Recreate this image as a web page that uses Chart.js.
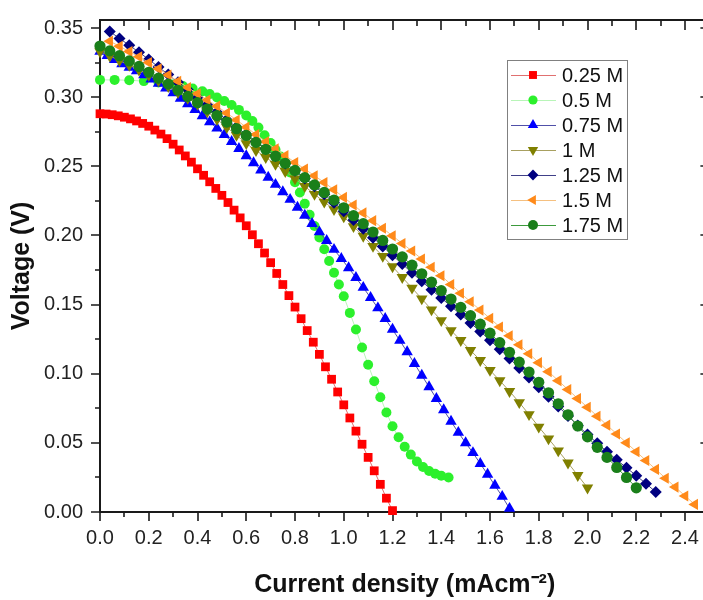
<!DOCTYPE html>
<html><head><meta charset="utf-8">
<script src="https://cdn.jsdelivr.net/npm/chart.js@4/dist/chart.umd.min.js"></script>
<style>html,body{margin:0;padding:0;background:#fff;overflow:hidden}#wrap{width:716px;height:600px}</style>
</head><body><div id="wrap"><canvas id="c" width="716" height="600"></canvas></div>
<script>
const xTickValues = [0, 0.2, 0.4, 0.6, 0.8, 1.0, 1.2, 1.4, 1.6, 1.8, 2.0, 2.2, 2.4];
const yTickValues = [0, 0.05, 0.10, 0.15, 0.20, 0.25, 0.30, 0.35];
const seriesLabels = ['0.25 M', '0.5 M', '0.75 M', '1 M', '1.25 M', '1.5 M', '1.75 M'];

const x025 = [0,0.025,0.05,0.075,0.1,0.125,0.15,0.175,0.2,0.225,0.25,0.275,0.3,0.325,0.35,0.375,0.4,0.425,0.45,0.475,0.5,0.525,0.55,0.575,0.6,0.625,0.65,0.675,0.7,0.725,0.75,0.775,0.8,0.825,0.85,0.875,0.9,0.925,0.95,0.975,1.0,1.025,1.05,1.075,1.1,1.125,1.15,1.175,1.2];
const y025 = [0.288,0.2878,0.2873,0.2865,0.2855,0.2843,0.2828,0.281,0.279,0.2762,0.2733,0.27,0.266,0.2618,0.2575,0.253,0.2482,0.2435,0.2388,0.234,0.229,0.2238,0.2183,0.2127,0.207,0.2005,0.194,0.1873,0.1803,0.1725,0.1645,0.1565,0.1482,0.1398,0.1312,0.1228,0.114,0.105,0.096,0.0868,0.0775,0.068,0.0585,0.049,0.0395,0.0298,0.02,0.01,0.001];

const x05 = [0,0.06,0.12,0.18,0.24,0.30,0.34,0.38,0.42,0.45,0.48,0.51,0.54,0.57,0.60,0.625,0.65,0.675,0.70,0.72,0.74,0.76,0.78,0.80,0.82,0.84,0.86,0.88,0.90,0.92,0.94,0.96,0.98,1.00,1.025,1.05,1.075,1.10,1.125,1.15,1.175,1.20,1.225,1.25,1.275,1.30,1.325,1.35,1.375,1.40,1.43];
const y05 = [0.3125,0.3125,0.3122,0.3116,0.3106,0.3092,0.3080,0.3063,0.3042,0.3022,0.2998,0.2972,0.2943,0.2908,0.2868,0.2828,0.2780,0.2725,0.2668,0.2620,0.2570,0.2515,0.2455,0.2385,0.2310,0.2230,0.2150,0.2068,0.1985,0.1900,0.1815,0.1730,0.1645,0.1560,0.1440,0.1320,0.1190,0.1065,0.0945,0.0830,0.0720,0.0620,0.0540,0.0472,0.0415,0.0365,0.0325,0.0297,0.0277,0.0262,0.0250];

const x075 = [0,0.03,0.06,0.09,0.12,0.15,0.18,0.21,0.24,0.27,0.30,0.33,0.36,0.39,0.42,0.45,0.48,0.51,0.54,0.57,0.60,0.63,0.66,0.69,0.72,0.75,0.78,0.81,0.84,0.87,0.90,0.93,0.96,0.99,1.02,1.05,1.08,1.11,1.14,1.17,1.20,1.23,1.26,1.29,1.32,1.35,1.38,1.41,1.44,1.47,1.50,1.53,1.56,1.59,1.62,1.65,1.68];
const y075 = [0.3330,0.3300,0.3270,0.3240,0.3215,0.3190,0.3160,0.3130,0.3100,0.3065,0.3030,0.2990,0.2950,0.2910,0.2865,0.2820,0.2775,0.2728,0.2678,0.2628,0.2575,0.2525,0.2472,0.2420,0.2368,0.2315,0.2260,0.2203,0.2145,0.2085,0.2025,0.1962,0.1898,0.1832,0.1765,0.1695,0.1623,0.1550,0.1475,0.1398,0.1320,0.1240,0.1158,0.1073,0.0988,0.0905,0.0820,0.0738,0.0655,0.0575,0.0500,0.0428,0.0350,0.0272,0.0192,0.0112,0.0025];

const x1 = [0,0.04,0.08,0.12,0.16,0.20,0.24,0.28,0.32,0.36,0.40,0.44,0.48,0.52,0.56,0.60,0.64,0.68,0.72,0.76,0.80,0.84,0.88,0.92,0.96,1.00,1.04,1.08,1.12,1.16,1.20,1.24,1.28,1.32,1.36,1.40,1.44,1.48,1.52,1.56,1.60,1.64,1.68,1.72,1.76,1.80,1.84,1.88,1.92,1.96,2.00];
const y1 = [0.3330,0.3298,0.3265,0.3232,0.3198,0.3160,0.3120,0.3078,0.3035,0.2992,0.2950,0.2895,0.2840,0.2782,0.2725,0.2665,0.2615,0.2565,0.2515,0.2463,0.2410,0.2355,0.2298,0.2242,0.2188,0.2135,0.2065,0.1995,0.1922,0.1850,0.1775,0.1697,0.1620,0.1542,0.1463,0.1385,0.1313,0.1241,0.1169,0.1097,0.1025,0.0950,0.0873,0.0792,0.0705,0.0615,0.0530,0.0443,0.0355,0.0265,0.0175];

const x125 = [0.04,0.08,0.12,0.16,0.20,0.24,0.28,0.32,0.36,0.40,0.44,0.48,0.52,0.56,0.60,0.64,0.68,0.72,0.76,0.80,0.84,0.88,0.92,0.96,1.00,1.04,1.08,1.12,1.16,1.20,1.24,1.28,1.32,1.36,1.40,1.44,1.48,1.52,1.56,1.60,1.64,1.68,1.72,1.76,1.80,1.84,1.88,1.92,1.96,2.00,2.04,2.08,2.12,2.16,2.20,2.24,2.28];
const y125 = [0.3475,0.3425,0.3375,0.3325,0.3273,0.3218,0.3163,0.3108,0.3053,0.2998,0.2944,0.2890,0.2837,0.2784,0.2731,0.2679,0.2627,0.2574,0.2521,0.2467,0.2412,0.2355,0.2297,0.2237,0.2175,0.2112,0.2048,0.1984,0.1920,0.1856,0.1793,0.1730,0.1668,0.1607,0.1547,0.1488,0.1428,0.1367,0.1305,0.1242,0.1177,0.1110,0.1042,0.0973,0.0903,0.0833,0.0763,0.0694,0.0626,0.0560,0.0497,0.0436,0.0377,0.0320,0.0263,0.0205,0.0145];

const x15 = [0.04,0.08,0.12,0.16,0.20,0.24,0.28,0.32,0.36,0.40,0.44,0.48,0.52,0.56,0.60,0.64,0.68,0.72,0.76,0.80,0.84,0.88,0.92,0.96,1.00,1.04,1.08,1.12,1.16,1.20,1.24,1.28,1.32,1.36,1.40,1.44,1.48,1.52,1.56,1.60,1.64,1.68,1.72,1.76,1.80,1.84,1.88,1.92,1.96,2.00,2.04,2.08,2.12,2.16,2.20,2.24,2.28,2.32,2.36,2.40,2.44];
const y15 = [0.3405,0.3368,0.3330,0.3292,0.3250,0.3205,0.3160,0.3115,0.3070,0.3025,0.2980,0.2935,0.2885,0.2835,0.2783,0.2730,0.2678,0.2626,0.2577,0.2528,0.2480,0.2432,0.2383,0.2330,0.2275,0.2220,0.2163,0.2107,0.2052,0.1997,0.1942,0.1887,0.1830,0.1770,0.1708,0.1645,0.1582,0.1520,0.1460,0.1400,0.1338,0.1275,0.1210,0.1145,0.1080,0.1015,0.0950,0.0885,0.0820,0.0757,0.0693,0.0628,0.0564,0.0500,0.0436,0.0372,0.0308,0.0244,0.0180,0.0116,0.0055];

const x175 = [0,0.04,0.08,0.12,0.16,0.20,0.24,0.28,0.32,0.36,0.40,0.44,0.48,0.52,0.56,0.60,0.64,0.68,0.72,0.76,0.80,0.84,0.88,0.92,0.96,1.00,1.04,1.08,1.12,1.16,1.20,1.24,1.28,1.32,1.36,1.40,1.44,1.48,1.52,1.56,1.60,1.64,1.68,1.72,1.76,1.80,1.84,1.88,1.92,1.96,2.00,2.04,2.08,2.12,2.16,2.20];
const y175 = [0.3370,0.3335,0.3300,0.3262,0.3222,0.3180,0.3137,0.3094,0.3050,0.3005,0.2960,0.2914,0.2867,0.2820,0.2772,0.2723,0.2673,0.2623,0.2573,0.2522,0.2470,0.2418,0.2365,0.2311,0.2256,0.2200,0.2143,0.2085,0.2025,0.1964,0.1902,0.1845,0.1785,0.1723,0.1662,0.1601,0.1540,0.1480,0.1420,0.1358,0.1293,0.1225,0.1155,0.1084,0.1012,0.0938,0.0862,0.0783,0.0703,0.0622,0.0543,0.0468,0.0395,0.0322,0.0250,0.0175];

const seriesX = [x025, x05, x075, x1, x125, x15, x175];
const seriesY = [y025, y05, y075, y1, y125, y15, y175];
const markerColors = ['#ff0000', '#2cf02c', '#0000ff', '#808000', '#000080', '#ff8a1a', '#1a7f1a'];
const lineColors = ['#e07070', '#b8f5b8', '#5050a8', '#a8a060', '#404088', '#f5c080', '#3c9a3c'];
const markerStyles = ['rect', 'circle', 'triangle', 'triangle', 'rectRot', 'triangle', 'circle'];
const markerRotations = [0, 0, 0, 180, 0, -90, 0];
const markerRadii = [6.2, 5.0, 6.6, 6.6, 6.0, 6.4, 5.6];
const legendRadii = [5.6, 4.6, 6.0, 6.0, 5.4, 5.8, 5.0];

const FONT = '"Liberation Sans", Arial, sans-serif';

function drawMarker(ctx, style, rot, r, x, y, color) {
  ctx.save();
  ctx.translate(x, y);
  ctx.rotate(rot * Math.PI / 180);
  ctx.fillStyle = color;
  ctx.beginPath();
  if (style === 'rect') { const s = Math.SQRT1_2 * r; ctx.rect(-s, -s, 2 * s, 2 * s); }
  else if (style === 'circle') { ctx.arc(0, 0, r, 0, 2 * Math.PI); }
  else if (style === 'triangle') {
    for (let k = 0; k < 3; k++) { const a = k * 2 * Math.PI / 3; ctx.lineTo(Math.sin(a) * r, -Math.cos(a) * r); }
    ctx.closePath();
  } else if (style === 'rectRot') { ctx.moveTo(-r, 0); ctx.lineTo(0, -r); ctx.lineTo(r, 0); ctx.lineTo(0, r); ctx.closePath(); }
  ctx.fill();
  ctx.restore();
}

const framePlugin = {
  id: 'frame',
  beforeDatasetsDraw(chart) {
    const { ctx, chartArea: a, scales: { x, y } } = chart;
    ctx.save();
    ctx.strokeStyle = '#1a1a1a';
    ctx.lineWidth = 2;
    ctx.strokeRect(a.left, a.top, a.right - a.left, a.bottom - a.top);
    ctx.lineWidth = 1.6;
    ctx.beginPath();
    for (let i = 0; i <= 25; i++) {
      const px = Math.round(x.getPixelForValue(i / 10));
      const L = i % 2 === 0 ? 9 : 5;
      ctx.moveTo(px, a.bottom); ctx.lineTo(px, a.bottom + L);
      ctx.moveTo(px, a.top); ctx.lineTo(px, a.top + L + 1);
    }
    for (let i = 0; i <= 14; i++) {
      const py = Math.round(y.getPixelForValue(i * 0.025));
      const L = i % 2 === 0 ? 9 : 5;
      ctx.moveTo(a.left, py); ctx.lineTo(a.left - L, py);
      ctx.moveTo(a.right, py); ctx.lineTo(a.right - L, py);
    }
    ctx.stroke();
    ctx.restore();
  }
};

const legendPlugin = {
  id: 'boxLegend',
  afterDraw(chart) {
    const ctx = chart.ctx;
    ctx.save();
    const bx = 507, by = 60, bw = 120, bh = 179;
    ctx.fillStyle = '#fff';
    ctx.fillRect(bx, by, bw, bh);
    ctx.strokeStyle = '#808080';
    ctx.lineWidth = 1;
    ctx.strokeRect(bx + 0.5, by + 0.5, bw, bh);
    chart.data.datasets.forEach((ds, i) => {
      const cy = 75 + i * 25;
      ctx.strokeStyle = ds.borderColor;
      ctx.lineWidth = 1;
      ctx.beginPath(); ctx.moveTo(511, cy + 0.5); ctx.lineTo(556, cy + 0.5); ctx.stroke();
      drawMarker(ctx, ds.pointStyle, ds.pointRotation || 0, legendRadii[i], 533, cy, ds.pointBackgroundColor);
      ctx.fillStyle = '#111';
      ctx.font = '20px ' + FONT;
      ctx.textBaseline = 'middle';
      ctx.textAlign = 'left';
      ctx.fillText(ds.label, 562, cy + 1);
    });
    ctx.restore();
  }
};

const datasets = seriesLabels.map((label, i) => ({
  label: label,
  data: seriesX[i].map((v, k) => ({ x: v, y: seriesY[i][k] })),
  showLine: true,
  borderColor: lineColors[i],
  borderWidth: 1,
  backgroundColor: markerColors[i],
  pointStyle: markerStyles[i],
  pointRotation: markerRotations[i],
  pointRadius: markerRadii[i],
  pointBackgroundColor: markerColors[i],
  pointBorderColor: markerColors[i],
  pointBorderWidth: 0,
  tension: 0,
  clip: false,
  order: seriesLabels.length - i
}));

new Chart(document.getElementById('c'), {
  type: 'scatter',
  data: { datasets: datasets },
  options: {
    responsive: false,
    animation: false,
    devicePixelRatio: 1,
    layout: { padding: { top: 16, right: 1, left: 0, bottom: 0 } },
    plugins: { legend: { display: false }, tooltip: { enabled: false } },
    scales: {
      x: {
        type: 'linear', position: 'bottom', min: 0, max: 2.5,
        afterBuildTicks: (s) => { s.ticks = xTickValues.map(v => ({ value: v })); },
        afterFit: (s) => { s.height = 88; },
        grid: { drawOnChartArea: false, drawTicks: true, tickLength: 9, color: 'rgba(0,0,0,0)' },
        border: { display: false },
        ticks: { padding: 5, color: '#222', font: { family: FONT, size: 20 }, maxRotation: 0, autoSkip: false,
          callback: (v) => Number(v).toFixed(1) },
        title: { display: true, text: 'Current density (mAcm⁻²)', color: '#111',
          font: { family: FONT, size: 25, weight: 'bold' }, padding: { top: 0, bottom: 0 } }
      },
      y: {
        type: 'linear', position: 'left', min: 0, max: 0.3558,
        afterBuildTicks: (s) => { s.ticks = yTickValues.map(v => ({ value: v })); },
        afterFit: (s) => { s.width = 100; },
        grid: { drawOnChartArea: false, drawTicks: true, tickLength: 9, color: 'rgba(0,0,0,0)' },
        border: { display: false },
        ticks: { padding: 8, color: '#222', font: { family: FONT, size: 20 }, autoSkip: false,
          callback: (v) => Number(v).toFixed(2) },
        title: { display: true, text: 'Voltage (V)', color: '#111',
          font: { family: FONT, size: 25, weight: 'bold' }, padding: { top: 7, bottom: 0 } }
      }
    }
  },
  plugins: [framePlugin, legendPlugin]
});
</script>
</body></html>
